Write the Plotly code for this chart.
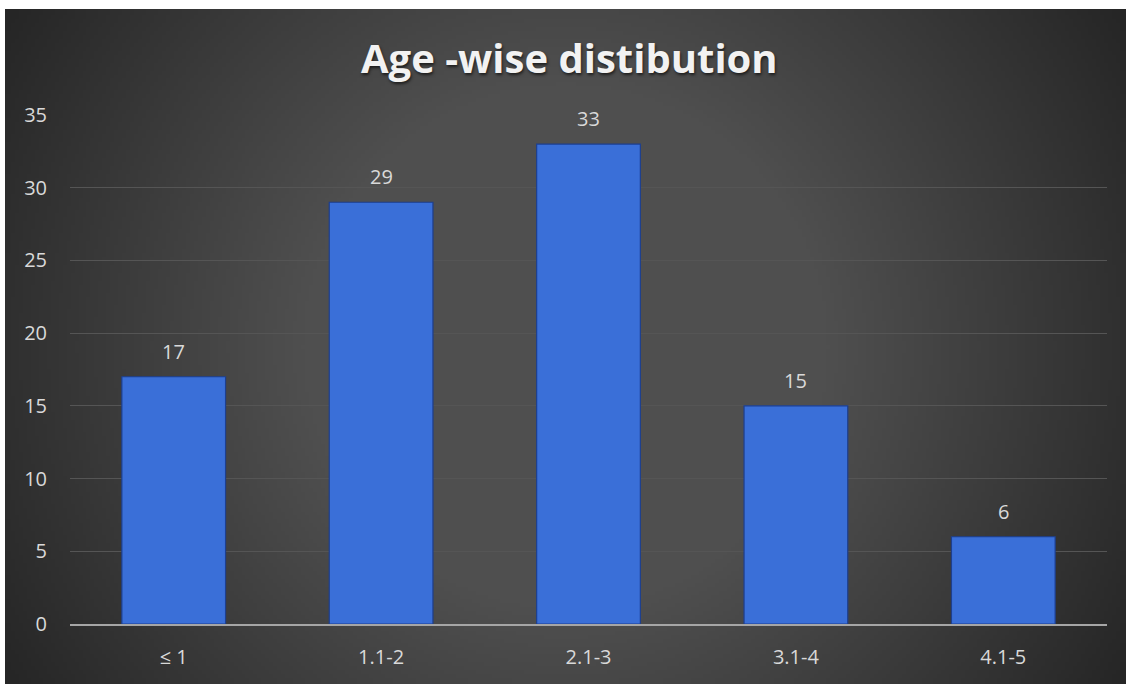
import base64
import struct
import zlib

import numpy as np
import plotly.graph_objects as go

# ---------------- data ----------------
categories = ["≤ 1", "1.1-2", "2.1-3", "3.1-4", "4.1-5"]
counts = [17, 29, 33, 15, 6]
y_ticks = [0, 5, 10, 15, 20, 25, 30, 35]
title_text = "Age -wise distibution"

W, H = 1127, 684


# ---------------- background gradient (style only) ----------------
def gradient_png(w=282, h=170):
    ys, xs = np.mgrid[0:h, 0:w]
    cx, cy = (w - 1) / 2.0, (h - 1) / 2.0
    sx = 1121.0 / w
    sy = 675.0 / h
    d = np.sqrt(((xs - cx) * sx) ** 2 + ((ys - cy) * sy) ** 2)
    dmax = np.sqrt((cx * sx) ** 2 + (cy * sy) ** 2)
    r = d / dmax
    v = np.minimum(79.0, 38.0 + 69.0 * (1.0 - r))
    v = np.clip(v, 0, 255).astype(np.uint8)
    rgb = np.stack([v, v, v], axis=-1)
    raw = b"".join(b"\x00" + rgb[i].tobytes() for i in range(h))

    def chunk(tag, data):
        c = struct.pack(">I", len(data)) + tag + data
        return c + struct.pack(">I", zlib.crc32(tag + data) & 0xFFFFFFFF)

    png = b"\x89PNG\r\n\x1a\n"
    png += chunk(b"IHDR", struct.pack(">IIBBBBB", w, h, 8, 2, 0, 0, 0))
    png += chunk(b"IDAT", zlib.compress(raw, 9))
    png += chunk(b"IEND", b"")
    return "data:image/png;base64," + base64.b64encode(png).decode()


bg = gradient_png()

# ---------------- figure ----------------
fig = go.Figure()
fig.add_trace(
    go.Bar(
        x=categories,
        y=counts,
        width=0.5,
        marker=dict(color="#3a6fd8", line=dict(color="#1d3f8f", width=1.2)),
        hoverinfo="x+y",
    )
)

for c, v in zip(categories, counts):
    fig.add_annotation(
        x=c, y=v, text=str(v), showarrow=False,
        yanchor="bottom", yshift=10,
        font=dict(family="Open Sans", size=20, color="#d9d9d9"),
    )

fig.add_annotation(
    xref="paper", yref="paper", x=569 / W, y=1 - 57 / H,
    xanchor="center", yanchor="middle", showarrow=False,
    text="<b>" + title_text + "</b>",
    font=dict(family="Open Sans", size=40, color="#f2f2f2",
              shadow="1px 2px 3px rgba(0,0,0,0.6)"),
)

fig.add_layout_image(
    dict(source=bg, xref="paper", yref="paper",
         x=5 / W, y=1 - 9 / H, sizex=1121 / W, sizey=675 / H,
         xanchor="left", yanchor="top", sizing="stretch", layer="below")
)

fig.update_layout(
    width=W, height=H,
    autosize=False,
    margin=dict(l=0, r=0, t=0, b=0, pad=0),
    paper_bgcolor="#ffffff",
    plot_bgcolor="rgba(0,0,0,0)",
    showlegend=False,
    bargap=0.5,
    xaxis=dict(
        domain=[70 / W, 1107 / W],
        automargin=False,
        showgrid=False, zeroline=False,
        showline=True, linecolor="#a6a6a6", linewidth=2,
        ticks="", ticklabelstandoff=14,
        tickfont=dict(family="Open Sans", size=20, color="#d9d9d9"),
        fixedrange=True,
    ),
    yaxis=dict(
        domain=[1 - 624 / H, 1 - 115 / H],
        automargin=False,
        range=[0, 35],
        tickvals=y_ticks,
        showgrid=True, gridcolor="#555555", gridwidth=1,
        zeroline=False, showline=False,
        ticks="", ticklabelstandoff=22,
        tickfont=dict(family="Open Sans", size=20, color="#d9d9d9"),
        fixedrange=True,
    ),
)

fig.write_html("out.html")
